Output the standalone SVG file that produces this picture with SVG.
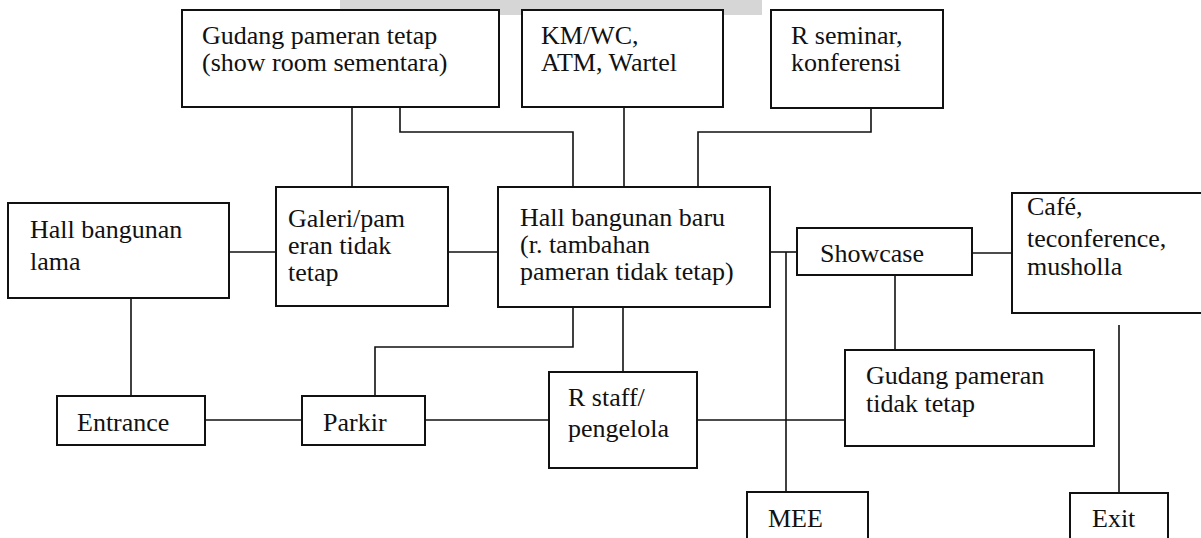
<svg xmlns="http://www.w3.org/2000/svg" width="1201" height="538" viewBox="0 0 1201 538">
  <style>
    .box { fill: #ffffff; stroke: #111111; stroke-width: 2; }
    .lbl { font-family: "Liberation Serif", "Times New Roman", serif; font-size: 26px; fill: #111111; }
    .wire { fill: none; stroke: #111111; stroke-width: 1.6; }
    .mark { fill: #d6d6d6; }
  </style>

  <rect width="1201" height="538" fill="#ffffff"/>

  <!-- faint grey band along the top edge -->
  <rect class="mark" x="340" y="0" width="422" height="15"/>

  <!-- connectors -->
  <g id="connectors">
    <path class="wire" d="M352,107 V187"/>
    <path class="wire" d="M400,107 V132 H573 V187"/>
    <path class="wire" d="M624,107 V187"/>
    <path class="wire" d="M871,108 V132 H698 V187"/>
    <path class="wire" d="M229,252 H276"/>
    <path class="wire" d="M448,252 H498"/>
    <path class="wire" d="M770,252 H797"/>
    <path class="wire" d="M786,252 V492"/>
    <path class="wire" d="M972,253 H1018"/>
    <path class="wire" d="M895,275 V350"/>
    <path class="wire" d="M131,298 V396"/>
    <path class="wire" d="M573,307 V347 H375 V396"/>
    <path class="wire" d="M623,307 V372"/>
    <path class="wire" d="M205,420 H302"/>
    <path class="wire" d="M425,420 H549"/>
    <path class="wire" d="M697,420 H845"/>
    <path class="wire" d="M1119,325 V493"/>
  </g>

  <g id="gudang-tetap">
    <rect class="box" x="182" y="10" width="317" height="97"/>
    <text class="lbl" x="202" y="44">Gudang pameran tetap</text>
    <text class="lbl" x="202" y="71">(show room sementara)</text>
  </g>

  <g id="kmwc">
    <rect class="box" x="522" y="10" width="201" height="97"/>
    <text class="lbl" x="541" y="44">KM/WC,</text>
    <text class="lbl" x="541" y="71">ATM, Wartel</text>
  </g>

  <g id="seminar">
    <rect class="box" x="771" y="10" width="172" height="98"/>
    <text class="lbl" x="791" y="44">R seminar,</text>
    <text class="lbl" x="791" y="71">konferensi</text>
  </g>

  <g id="hall-lama">
    <rect class="box" x="8" y="203" width="221" height="95"/>
    <text class="lbl" x="30" y="238">Hall bangunan</text>
    <text class="lbl" x="30" y="270">lama</text>
  </g>

  <g id="galeri">
    <rect class="box" x="276" y="187" width="172" height="119"/>
    <text class="lbl" x="288" y="227">Galeri/pam</text>
    <text class="lbl" x="288" y="254">eran tidak</text>
    <text class="lbl" x="288" y="281">tetap</text>
  </g>

  <g id="hall-baru">
    <rect class="box" x="498" y="187" width="272" height="120"/>
    <text class="lbl" x="520" y="226">Hall bangunan baru</text>
    <text class="lbl" x="520" y="253">(r. tambahan</text>
    <text class="lbl" x="520" y="280">pameran tidak tetap)</text>
  </g>

  <g id="showcase">
    <rect class="box" x="797" y="228" width="175" height="47"/>
    <text class="lbl" x="820" y="262">Showcase</text>
  </g>

  <g id="cafe">
    <rect class="box" x="1012" y="193" width="193" height="120"/>
    <text class="lbl" x="1027" y="215">Café,</text>
    <text class="lbl" x="1027" y="247">teconference,</text>
    <text class="lbl" x="1027" y="275">musholla</text>
  </g>

  <g id="entrance">
    <rect class="box" x="57" y="396" width="148" height="49"/>
    <text class="lbl" x="77" y="431">Entrance</text>
  </g>

  <g id="parkir">
    <rect class="box" x="302" y="396" width="123" height="49"/>
    <text class="lbl" x="323" y="431">Parkir</text>
  </g>

  <g id="r-staff">
    <rect class="box" x="549" y="372" width="148" height="96"/>
    <text class="lbl" x="568" y="406">R staff/</text>
    <text class="lbl" x="568" y="437">pengelola</text>
  </g>

  <g id="gudang-tidak-tetap">
    <rect class="box" x="845" y="350" width="249" height="96"/>
    <text class="lbl" x="866" y="384">Gudang pameran</text>
    <text class="lbl" x="866" y="412">tidak tetap</text>
  </g>

  <g id="mee">
    <rect class="box" x="747" y="492" width="121" height="60"/>
    <text class="lbl" x="768" y="527">MEE</text>
  </g>

  <g id="exit">
    <rect class="box" x="1070" y="493" width="98" height="60"/>
    <text class="lbl" x="1092" y="527">Exit</text>
  </g>
</svg>
